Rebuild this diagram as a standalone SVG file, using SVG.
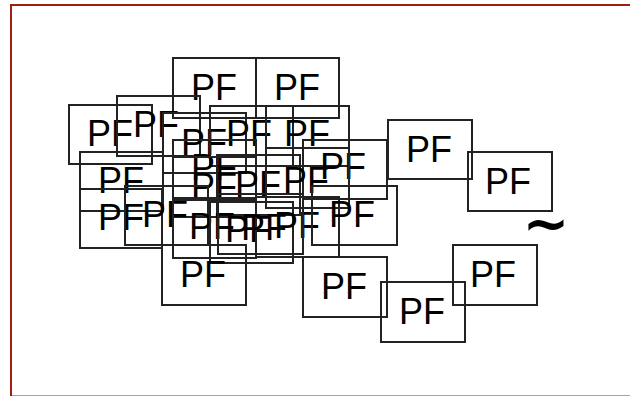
<svg xmlns="http://www.w3.org/2000/svg" width="630" height="396" viewBox="0 0 630 396">
<style>
.b rect{fill:none;stroke:#222;stroke-width:2}
.b text{font-family:"Liberation Sans",Arial,sans-serif;font-size:36px;fill:#000;text-anchor:middle}
</style>
<rect x="0" y="0" width="630" height="396" fill="#fff"/>
<rect x="11" y="5" width="640" height="391.5" fill="none" stroke="#a01e10" stroke-width="2"/>
<g id="n1" class="b"><rect x="173" y="58" width="83" height="60"/><text x="214" y="100">PF</text></g>
<g id="n2" class="b"><rect x="256" y="58" width="83" height="60"/><text x="297" y="100">PF</text></g>
<g id="n3" class="b"><rect x="69" y="105" width="83" height="59"/><text x="110" y="146">PF</text></g>
<g id="n4" class="b"><rect x="117" y="96" width="83" height="60"/><text x="156" y="137">PF</text></g>
<g id="n5" class="b"><rect x="163" y="113" width="83" height="60"/><text x="204" y="155">PF</text></g>
<g id="n6" class="b"><rect x="210" y="106" width="83" height="60"/><text x="249" y="146">PF</text></g>
<g id="n7" class="b"><rect x="266" y="106" width="83" height="60"/><text x="307" y="146">PF</text></g>
<g id="n8" class="b"><rect x="173" y="140" width="83" height="60"/><text x="214" y="180">PF</text></g>
<g id="n9" class="b"><rect x="303" y="140" width="84" height="59"/><text x="343" y="179">PF</text></g>
<g id="n10" class="b"><rect x="80" y="152" width="83" height="59"/><text x="121" y="193">PF</text></g>
<g id="n11" class="b"><rect x="173" y="157" width="83" height="60"/><text x="214" y="199">PF</text></g>
<g id="n12" class="b"><rect x="217" y="155" width="83" height="60"/><text x="258" y="197">PF</text></g>
<g id="n13" class="b"><rect x="266" y="148" width="83" height="60"/><text x="306" y="193">PF</text></g>
<g id="n14" class="b"><rect x="80" y="189" width="82" height="59"/><text x="121" y="230">PF</text></g>
<g id="n15" class="b"><rect x="125" y="186" width="83" height="59"/><text x="165" y="227">PF</text></g>
<g id="n16" class="b"><rect x="173" y="198" width="83" height="60"/><text x="212" y="239">PF</text></g>
<g id="n17" class="b"><rect x="210" y="202" width="83" height="61"/><text x="248" y="242">PF</text></g>
<g id="n18" class="b"><rect x="256" y="197" width="83" height="60"/><text x="297" y="238">PF</text></g>
<g id="n19" class="b"><rect x="312" y="186" width="85" height="59"/><text x="352" y="227">PF</text></g>
<g id="n20" class="b"><rect x="388" y="120" width="84" height="59"/><text x="429" y="162">PF</text></g>
<g id="n21" class="b"><rect x="468" y="152" width="84" height="59"/><text x="508" y="194">PF</text></g>
<g id="n22" class="b"><rect x="162" y="245" width="84" height="60"/><text x="203" y="287">PF</text></g>
<g id="n23" class="b"><rect x="303" y="257" width="84" height="60"/><text x="344" y="299">PF</text></g>
<g id="n24" class="b"><rect x="381" y="282" width="84" height="60"/><text x="422" y="324">PF</text></g>
<g id="n25" class="b"><rect x="453" y="245" width="84" height="60"/><text x="493" y="287">PF</text></g>
<g id="n26" class="b"><rect x="218" y="194" width="85" height="60"/><text x="264" y="240">PF</text></g>
<g id="connectors"></g>
<text x="546" y="242" font-family="DejaVu Sans,sans-serif" font-weight="bold" font-size="56" text-anchor="middle">~</text>
</svg>
